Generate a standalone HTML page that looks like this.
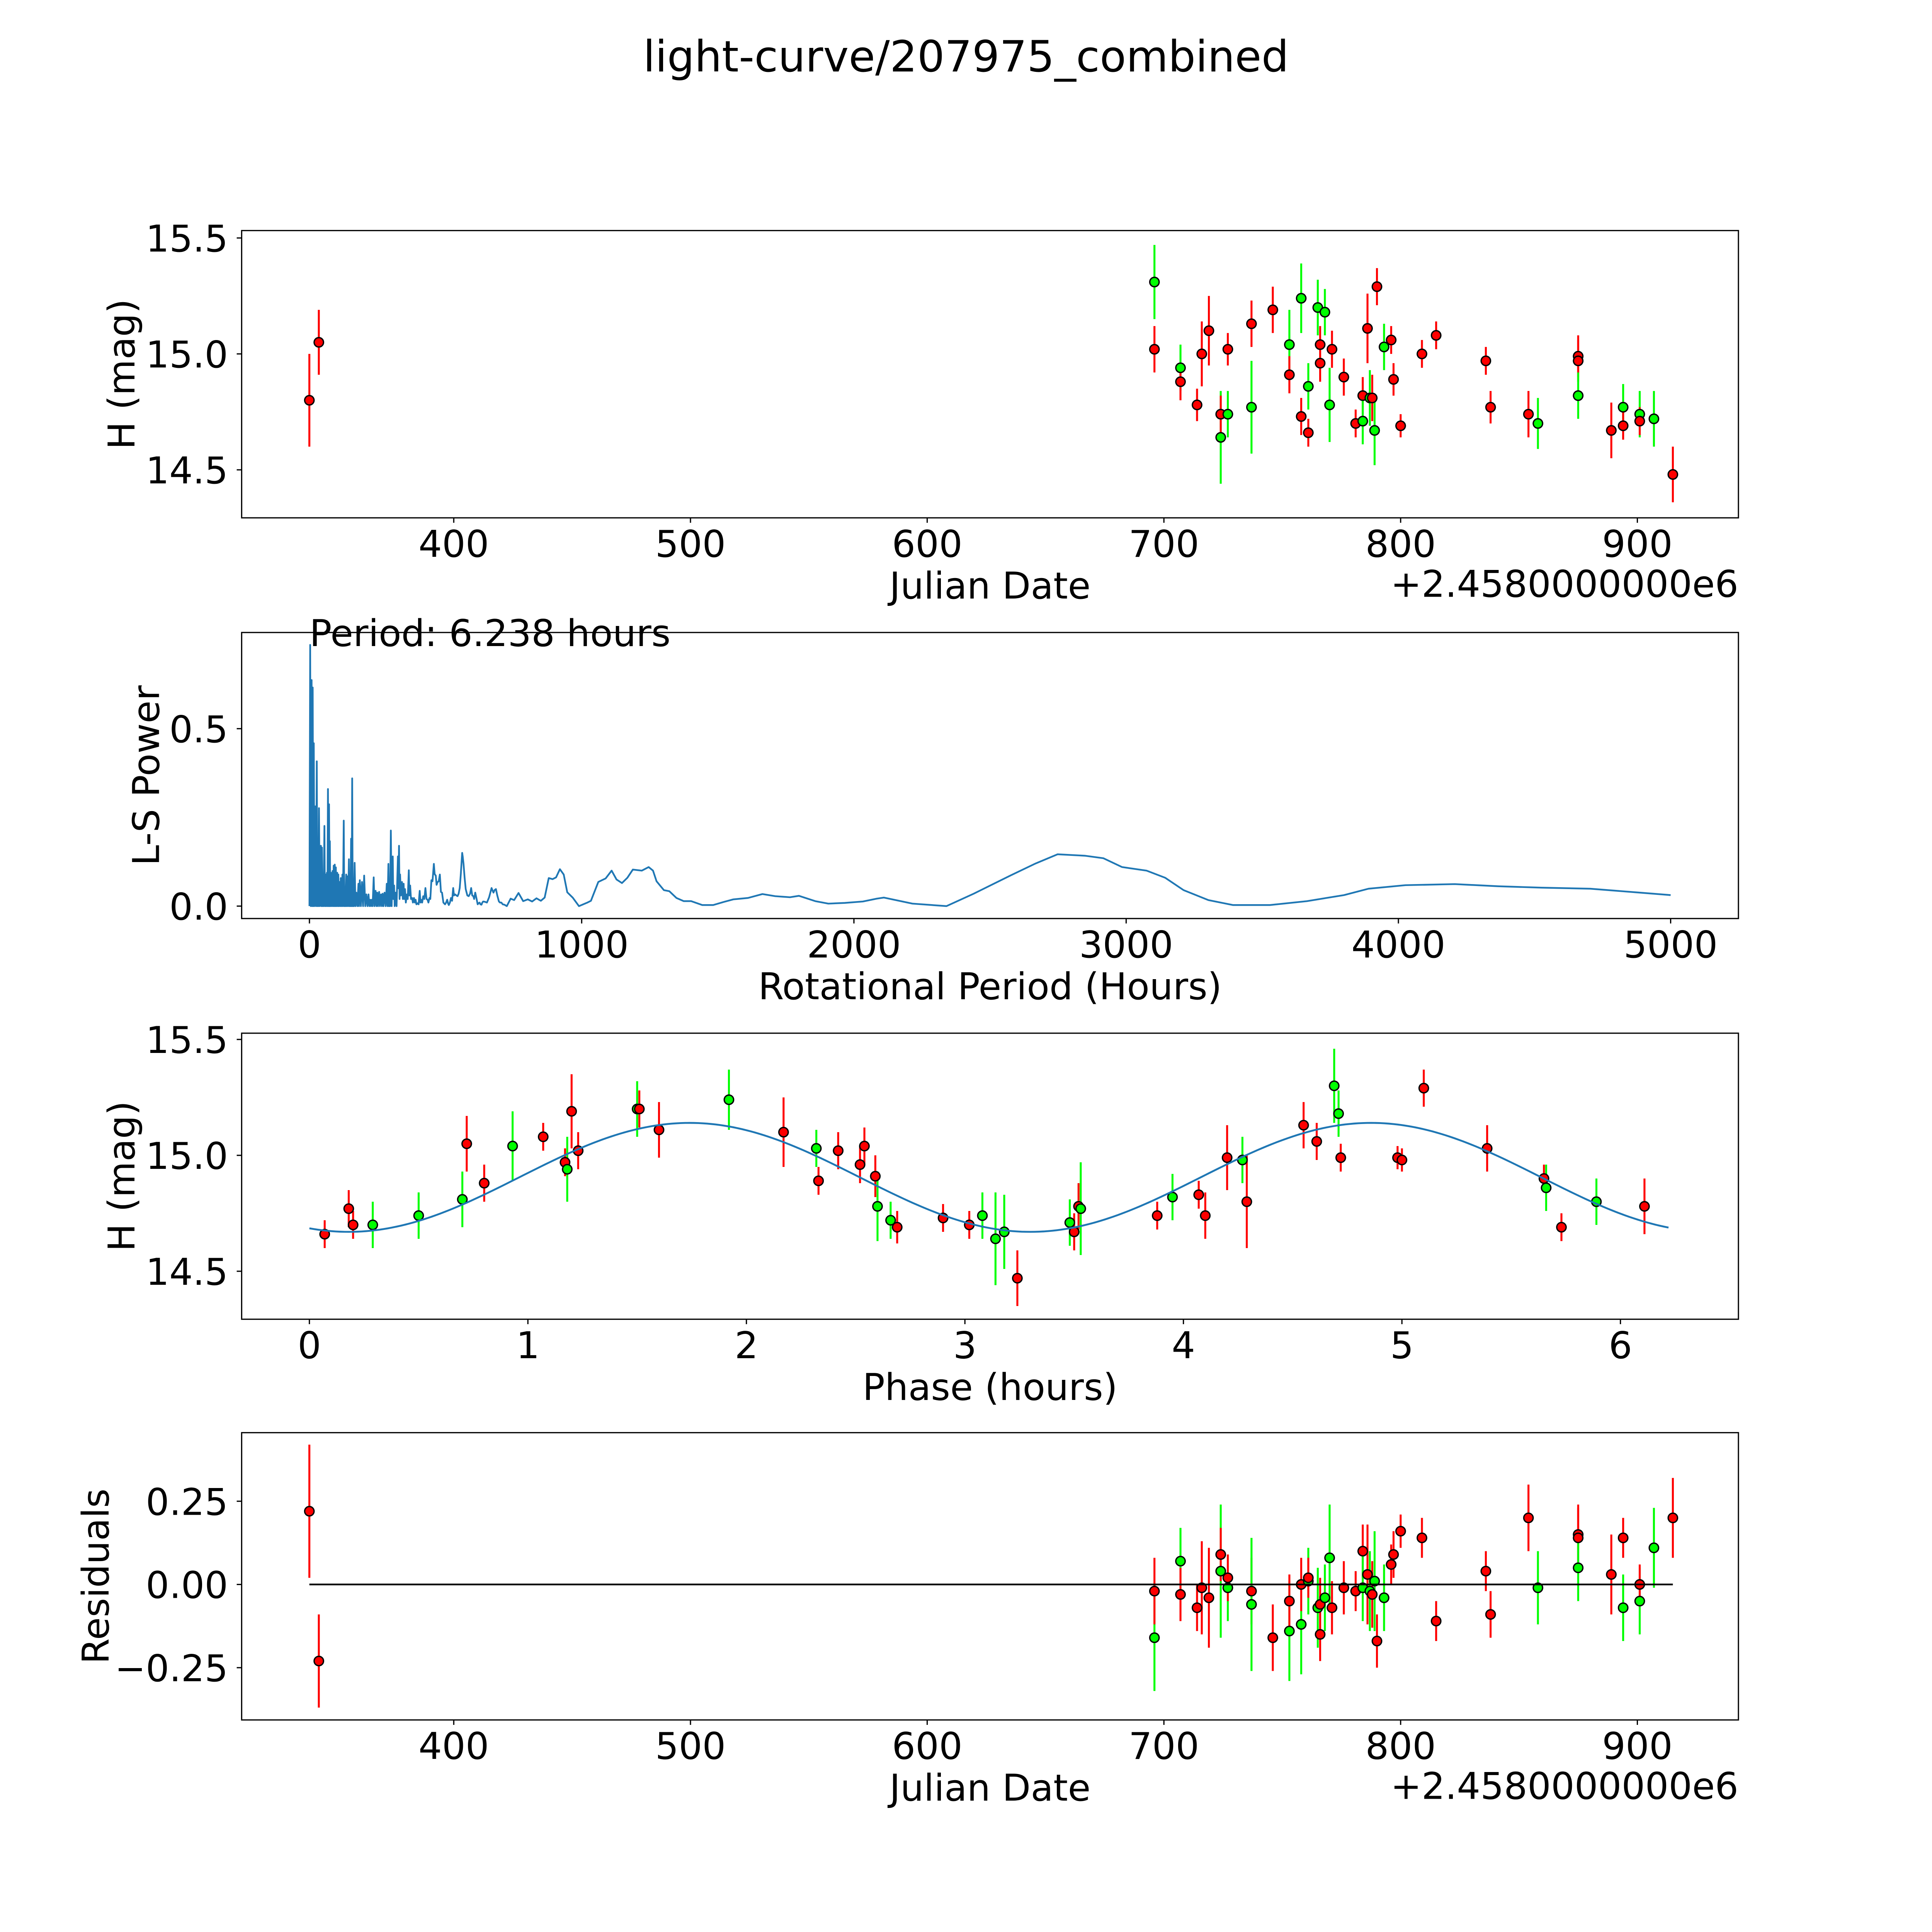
<!DOCTYPE html>
<html><head><meta charset="utf-8"><style>
html,body{margin:0;padding:0;background:#fff;overflow:hidden;width:100vw;height:100vh;}
svg{display:block;width:100vw;height:100vh;}
text{font-family:"DejaVu Sans","Liberation Sans",sans-serif;fill:#000;}
</style></head>
<body>
<svg id="fig" xmlns="http://www.w3.org/2000/svg" viewBox="0 0 1567 1567" preserveAspectRatio="none">
<rect x="0" y="0" width="1567" height="1567" fill="#fff"/>
<text x="783.5" y="58" font-size="35" text-anchor="middle">light-curve/207975_combined</text>
</svg>
<script>
// ---- light curve data (JD - 2458000) ----
const dates=[339,343,696,696,707,707,714,716,719,724,724,727,727,737,737,746,753,753,758,758,761,761,765,766,766,768,770,771,776,781,784,784,786,787,788,789,790,793,796,797,800,809,815,836,838,854,858,875,875,875,889,894,894,901,901,907,915];
const mags=[14.80,15.05,15.31,15.02,14.94,14.88,14.78,15.00,15.10,14.64,14.74,14.74,15.02,15.13,14.77,15.19,15.04,14.91,15.24,14.73,14.86,14.66,15.20,15.04,14.96,15.18,14.78,15.02,14.90,14.70,14.82,14.71,15.11,14.81,14.81,14.67,15.29,15.03,15.06,14.89,14.69,15.00,15.08,14.97,14.77,14.74,14.70,14.99,14.97,14.82,14.67,14.77,14.69,14.74,14.71,14.72,14.48];
const magErrs=[0.20,0.14,0.16,0.10,0.10,0.08,0.07,0.14,0.15,0.20,0.08,0.10,0.07,0.10,0.20,0.10,0.15,0.08,0.15,0.08,0.10,0.06,0.12,0.08,0.08,0.10,0.16,0.08,0.08,0.06,0.08,0.10,0.15,0.12,0.10,0.15,0.08,0.10,0.06,0.07,0.05,0.06,0.06,0.06,0.07,0.10,0.11,0.09,0.09,0.10,0.12,0.10,0.06,0.10,0.06,0.12,0.12];
const bands=['r','r','g','r','g','r','r','r','r','g','r','g','r','r','g','r','g','r','g','r','g','r','g','r','r','g','g','r','r','r','r','g','r','g','r','g','r','g','r','r','r','r','r','r','r','r','g','r','r','g','r','g','r','g','r','g','r'];
const residuals=[0.22,-0.23,-0.16,-0.02,0.07,-0.03,-0.07,-0.01,-0.04,0.04,0.09,-0.01,0.02,-0.02,-0.06,-0.16,-0.14,-0.05,-0.12,0.00,0.01,0.02,-0.07,-0.06,-0.15,-0.04,0.08,-0.07,-0.01,-0.02,0.10,-0.01,0.03,-0.02,-0.03,0.01,-0.17,-0.04,0.06,0.09,0.16,0.14,-0.11,0.04,-0.09,0.20,-0.01,0.15,0.14,0.05,0.03,-0.07,0.14,-0.05,0.00,0.11,0.20];
// ---- phased data ----
const phases=[0.07,0.18,0.20,0.29,0.50,0.70,0.72,0.80,0.93,1.07,1.17,1.18,1.20,1.23,1.50,1.51,1.60,1.92,2.17,2.32,2.33,2.42,2.52,2.54,2.59,2.60,2.66,2.69,2.90,3.02,3.08,3.14,3.18,3.24,3.48,3.50,3.52,3.53,3.88,3.95,4.07,4.10,4.20,4.27,4.29,4.55,4.61,4.69,4.71,4.72,4.98,5.00,5.10,5.39,5.65,5.66,5.73,5.89,6.11];
const phaseMags=[14.66,14.77,14.70,14.70,14.74,14.81,15.05,14.88,15.04,15.08,14.97,14.94,15.19,15.02,15.20,15.20,15.11,15.24,15.10,15.03,14.89,15.02,14.96,15.04,14.91,14.78,14.72,14.69,14.73,14.70,14.74,14.64,14.67,14.47,14.71,14.67,14.78,14.77,14.74,14.82,14.83,14.74,14.99,14.98,14.80,15.13,15.06,15.30,15.18,14.99,14.99,14.98,15.29,15.03,14.90,14.86,14.69,14.80,14.78];
const phaseErrs=[0.06,0.08,0.06,0.10,0.10,0.12,0.12,0.08,0.15,0.06,0.06,0.14,0.16,0.08,0.12,0.08,0.12,0.13,0.15,0.08,0.06,0.08,0.08,0.08,0.09,0.15,0.08,0.07,0.06,0.06,0.10,0.20,0.16,0.12,0.10,0.08,0.10,0.20,0.06,0.10,0.06,0.10,0.14,0.10,0.20,0.10,0.08,0.16,0.10,0.06,0.05,0.05,0.08,0.10,0.06,0.10,0.06,0.10,0.12];
const phaseBands=['r','r','r','g','g','g','r','r','g','r','r','g','r','r','g','r','r','g','r','g','r','r','r','r','r','g','g','r','r','r','g','g','g','r','g','r','r','g','r','g','r','r','r','g','r','r','r','g','g','r','r','r','r','r','r','g','r','g','r'];
// model: [mean, amplitude, minimum phase, sub-period, full period]
const modelParams=[14.905,0.235,0.18,3.119,6.238];
// ---- Lomb-Scargle periodogram ----
const lsPeriods=[0,2.7,5,8,10,12,14,16,18,21,24,27,29,31,33,35,38,42,44,46,48,50,52,55,57,59,61,64,66,68,70,72,74,75,77,79,82,85,87,89,91,93,95,97,99,102,104,106,108,111,113,115,118,121,123,126,128,130,132,135,137,139,142,145,147,149,151,153,155,157,159,161,163,166,169,172,176,180,182,185,189,193,197,201,205,209,213,217,220,223,226,229,232,236,239,243,246,249,252,256,259,263,266,269,272,276,280,284,287,290,292,294,296,299,302,306,308,311,313,316,320,325,327,329,331,333,336,340,343,346,348,351,354,358,361,365,367,370,373,377,380,384,387,390,393,397,401,405,408,410,414,418,422,426,430,434,437,441,444,448,452,457,460,464,467,471,475,479,483,487,492,498,502,506,509,512,516,520,524,528,531,535,540,544,548,552,556,561,563,566,570,574,580,585,590,594,598,602,605,609,614,618,621,625,628,632,635,638,645,652,660,669,672,676,680,685,690,696,700,705,710,716,725,739,752,768,785,802,818,834,850,864,879,893,906,920,934,947,967,990,1021,1034,1061,1088,1110,1128,1148,1168,1188,1221,1246,1262,1275,1302,1322,1348,1375,1402,1443,1483,1523,1557,1611,1664,1711,1765,1798,1858,1906,1966,2033,2084,2110,2215,2340,2440,2577,2667,2748,2848,2916,2985,3075,3143,3211,3302,3392,3528,3664,3800,3890,4026,4207,4366,4525,4705,4887,5000];
const lsPowers=[0,0.736,0,0.637,0,0.616,0,0.459,0,0.281,0,0.408,0,0.089,0,0.276,0,0.170,0,0.165,0,0.089,0,0.226,0,0.089,0,0.094,0,0.330,0,0.287,0,0.183,0,0.094,0,0.099,0,0.114,0,0.117,0,0.109,0,0.094,0,0.089,0,0.068,0,0.079,0,0.089,0,0.241,0,0.053,0,0.089,0,0.084,0,0.132,0,0.038,0,0.190,0,0.360,0,0.038,0,0.122,0,0.038,0,0.063,0,0.073,0,0.068,0,0.086,0,0.033,0,0.033,0,0.018,0,0.018,0,0.081,0,0.043,0,0.038,0,0.040,0,0.033,0,0.035,0,0.038,0,0.063,0,0.119,0,0.038,0,0.213,0,0.140,0.02,0.058,0,0.038,0,0.140,0.05,0.170,0.02,0.089,0.03,0.068,0.02,0.063,0.02,0.048,0.01,0.033,0.02,0.101,0.03,0.058,0.02,0.023,0.01,0.023,0.01,0.018,0.005,0.008,0.005,0.043,0.01,0.018,0.01,0.028,0.02,0.051,0.02,0.018,0.01,0.023,0.02,0.073,0.07,0.119,0.09,0.086,0.06,0.068,0.07,0.089,0.04,0.038,0.01,0.005,0.01,0.018,0.008,0.003,0.01,0.023,0.015,0.051,0.03,0.033,0.03,0.028,0.035,0.051,0.09,0.150,0.14,0.119,0.08,0.048,0.03,0.028,0.035,0.051,0.03,0.028,0.02,0.038,0.02,0.005,0.008,0.010,0.005,0.004,0.01,0.013,0.012,0.010,0.025,0.051,0.045,0.038,0.045,0.048,0.03,0.013,0.01,0.010,0.005,0.004,0,0.021,0.017,0.037,0.014,0.019,0.013,0.022,0.015,0.024,0.079,0.076,0.081,0.104,0.089,0.039,0.024,0,0.010,0.015,0.068,0.078,0.100,0.075,0.065,0.080,0.103,0.100,0.110,0.100,0.070,0.045,0.042,0.023,0.014,0.014,0.003,0.003,0.012,0.019,0.023,0.034,0.028,0.025,0.029,0.014,0.007,0.009,0.013,0.021,0.024,0.007,0,0.035,0.087,0.12,0.146,0.142,0.135,0.11,0.10,0.08,0.045,0.017,0.003,0.003,0.014,0.031,0.049,0.059,0.062,0.056,0.052,0.049,0.038,0.031];
const bestPeriodLabel=['Period: 6.238 hours'];
// ---- tick labels ----
const jdTicks=[400,500,600,700,800,900];
const magTicks=[14.5,15.0,15.5];
const magTickLabels=['14.5','15.0','15.5'];
const lsXTicks=[0,1000,2000,3000,4000,5000];
const lsYTicks=[0,0.5];
const lsYTickLabels=['0.0','0.5'];
const phaseTicks=[0,1,2,3,4,5,6];
const resTicks=[-0.25,0,0.25];
const resTickLabels=['\u22120.25','0.00','0.25'];

const NS='http://www.w3.org/2000/svg';
const fig=document.getElementById('fig');
function mk(tag,attrs,parent){const e=document.createElementNS(NS,tag);for(const k in attrs)e.setAttribute(k,attrs[k]);(parent||fig).appendChild(e);return e;}
const COL={r:'#ff0000',g:'#00ff00'};

function makeAxes(name,x0,y0,x1,y1,xmin,xmax,ymin,ymax){
  const g=mk('g',{});
  
  
  const sx=v=>x0+(v-xmin)/(xmax-xmin)*(x1-x0);
  const sy=v=>y1-(v-ymin)/(ymax-ymin)*(y1-y0);
  return {g,sx,sy,x0,y0,x1,y1};
}
function frame(ax){
  const r=mk('rect',{x:ax.x0,y:ax.y0,width:ax.x1-ax.x0,height:ax.y1-ax.y0,fill:'none',stroke:'#000','stroke-width':1},ax.g);
  
  
}
function xTicks(ax,vals,labels){
  vals.forEach((v,i)=>{
    const x=ax.sx(v);
    const t=mk('line',{x1:x,x2:x,y1:ax.y1,y2:ax.y1+4,stroke:'#000','stroke-width':1},ax.g);
    
    
    const l=mk('text',{x:x,y:ax.y1+31.6,'font-size':30,'text-anchor':'middle'},ax.g);
    l.textContent=labels[i];
    
    
  });
}
function yTicks(ax,vals,labels){
  vals.forEach((v,i)=>{
    const y=ax.sy(v);
    const t=mk('line',{x1:ax.x0-4,x2:ax.x0,y1:y,y2:y,stroke:'#000','stroke-width':1},ax.g);
    
    
    const l=mk('text',{x:ax.x0-11,y:y+11,'font-size':30,'text-anchor':'end'},ax.g);
    l.textContent=labels[i];
    
    
  });
}
function xLabel(ax,txt){
  const l=mk('text',{x:(ax.x0+ax.x1)/2,y:ax.y1+65.5,'font-size':30,'text-anchor':'middle'},ax.g);
  l.textContent=txt;
  
  
}
function offsetLabel(ax){
  const l=mk('text',{x:ax.x1,y:ax.y1+64,'font-size':30,'text-anchor':'end'},ax.g);
  l.textContent='+2.4580000000e6';
  
  
}
function yLabel(ax,txt,bx){
  const cy=(ax.y0+ax.y1)/2;
  const l=mk('text',{x:bx,y:cy,'font-size':30,'text-anchor':'middle',transform:'rotate(-90 '+bx+' '+cy+')'},ax.g);
  l.textContent=txt;
  
  
}
function errPoints(ax,xs,ys,es,cs,nm){
  xs.forEach((xv,i)=>{
    const x=ax.sx(xv);
    const b=mk('line',{x1:x,x2:x,y1:ax.sy(ys[i]-es[i]),y2:ax.sy(ys[i]+es[i]),stroke:COL[cs[i]],'stroke-width':1.6},ax.g);
    
    
  });
  xs.forEach((xv,i)=>{
    const c=mk('circle',{cx:ax.sx(xv),cy:ax.sy(ys[i]),r:3.8,fill:COL[cs[i]],stroke:'#000','stroke-width':1.1},ax.g);
    
    
  });
}
function jdLabels(){return jdTicks.map(v=>String(v));}

// Panel 1: light curve
const a1=makeAxes('light-curve-panel',196,187,1410,420,310.4,942.7,14.293,15.532);
errPoints(a1,dates,mags,magErrs,bands,'light-curve');
frame(a1);xTicks(a1,jdTicks,jdLabels());yTicks(a1,magTicks,magTickLabels);
xLabel(a1,'Julian Date');offsetLabel(a1);yLabel(a1,'H (mag)',109);

// Panel 2: periodogram
const a2=makeAxes('periodogram-panel',196,513,1410,745,-249,5249,-0.035,0.771);
const pl=mk('polyline',{points:lsPeriods.map((p,i)=>a2.sx(p).toFixed(2)+','+a2.sy(lsPowers[i]).toFixed(2)).join(' '),fill:'none',stroke:'#1f77b4','stroke-width':1.4,'stroke-linejoin':'round'},a2.g);


frame(a2);xTicks(a2,lsXTicks,lsXTicks.map(v=>String(v)));yTicks(a2,lsYTicks,lsYTickLabels);
xLabel(a2,'Rotational Period (Hours)');yLabel(a2,'L-S Power',129);
const pt=mk('text',{x:a2.sx(0),y:524,'font-size':30},a2.g);
pt.textContent=bestPeriodLabel[0];



// Panel 3: phased curve
const a3=makeAxes('phased-curve-panel',196,838,1410,1070,-0.31,6.54,14.293,15.527);
errPoints(a3,phases,phaseMags,phaseErrs,phaseBands,'phased');
const mp=[];
for(let p=0;p<=modelParams[4]+1e-9;p+=0.02){
  const m=modelParams[0]-modelParams[1]*Math.cos(2*Math.PI*(p-modelParams[2])/modelParams[3]);
  mp.push(a3.sx(p).toFixed(2)+','+a3.sy(m).toFixed(2));
}
const ml=mk('polyline',{points:mp.join(' '),fill:'none',stroke:'#1f77b4','stroke-width':1.5},a3.g);


frame(a3);xTicks(a3,phaseTicks,phaseTicks.map(v=>String(v)));yTicks(a3,magTicks,magTickLabels);
xLabel(a3,'Phase (hours)');yLabel(a3,'H (mag)',109);

// Panel 4: residuals
const a4=makeAxes('residuals-panel',196,1162,1410,1395,310.4,942.7,-0.407,0.456);
errPoints(a4,dates,residuals,magErrs,bands,'residual');
const zl=mk('line',{x1:a4.sx(dates[0]),x2:a4.sx(dates[dates.length-1]),y1:a4.sy(0),y2:a4.sy(0),stroke:'#000','stroke-width':1.4},a4.g);


frame(a4);xTicks(a4,jdTicks,jdLabels());yTicks(a4,resTicks,resTickLabels);
xLabel(a4,'Julian Date');offsetLabel(a4);yLabel(a4,'Residuals',88);
</script>
</body></html>
